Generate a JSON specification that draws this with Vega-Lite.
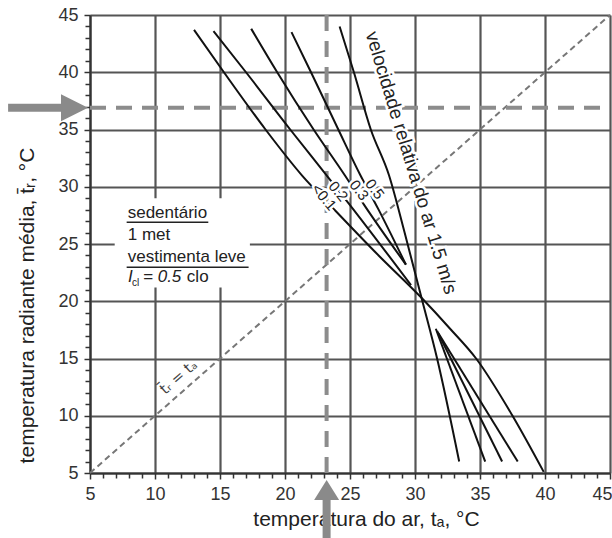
{
  "$schema": "https://vega.github.io/schema/vega-lite/v6.json",
  "width": 520,
  "height": 458,
  "autosize": {"type": "none"},
  "padding": {"left": 90, "top": 15, "right": 2, "bottom": 65},
  "background": "white",
  "config": {"view": {"stroke": null}, "font": "Liberation Sans"},
  "datasets": {
    "curves": [
      {"v": "<0.1", "s": "a", "o": 0, "x": 13.0, "y": 43.7},
      {"v": "<0.1", "s": "a", "o": 1, "x": 15.3, "y": 40},
      {"v": "<0.1", "s": "a", "o": 2, "x": 18.5, "y": 35},
      {"v": "<0.1", "s": "a", "o": 3, "x": 21.3, "y": 31},
      {"v": "<0.1", "s": "a", "o": 4, "x": 23.8, "y": 28},
      {"v": "<0.1", "s": "a", "o": 5, "x": 27.2, "y": 24},
      {"v": "<0.1", "s": "a", "o": 6, "x": 30.5, "y": 20.3},
      {"v": "<0.1", "s": "a", "o": 7, "x": 32.7, "y": 17.6},
      {"v": "<0.1", "s": "a", "o": 8, "x": 34.7, "y": 15},
      {"v": "<0.1", "s": "a", "o": 9, "x": 37.5, "y": 10},
      {"v": "<0.1", "s": "a", "o": 10, "x": 39.9, "y": 5.1},
      {"v": "0.2", "s": "b1", "o": 0, "x": 14.5, "y": 43.6},
      {"v": "0.2", "s": "b1", "o": 1, "x": 17.0, "y": 40},
      {"v": "0.2", "s": "b1", "o": 2, "x": 20.4, "y": 35},
      {"v": "0.2", "s": "b1", "o": 3, "x": 23.2, "y": 31},
      {"v": "0.2", "s": "b1", "o": 4, "x": 25.0, "y": 28.4},
      {"v": "0.2", "s": "b1", "o": 5, "x": 29.7, "y": 21.4},
      {"v": "0.2", "s": "b2", "o": 0, "x": 31.8, "y": 17.2},
      {"v": "0.2", "s": "b2", "o": 1, "x": 37.9, "y": 6.0},
      {"v": "0.3", "s": "c1", "o": 0, "x": 17.4, "y": 43.8},
      {"v": "0.3", "s": "c1", "o": 1, "x": 19.4, "y": 40},
      {"v": "0.3", "s": "c1", "o": 2, "x": 22.2, "y": 35},
      {"v": "0.3", "s": "c1", "o": 3, "x": 24.6, "y": 31},
      {"v": "0.3", "s": "c1", "o": 4, "x": 26.1, "y": 28.4},
      {"v": "0.3", "s": "c1", "o": 5, "x": 29.3, "y": 23.2},
      {"v": "0.3", "s": "c2", "o": 0, "x": 31.7, "y": 17.4},
      {"v": "0.3", "s": "c2", "o": 1, "x": 36.7, "y": 6.0},
      {"v": "0.5", "s": "d1", "o": 0, "x": 20.5, "y": 43.5},
      {"v": "0.5", "s": "d1", "o": 1, "x": 22.0, "y": 40},
      {"v": "0.5", "s": "d1", "o": 2, "x": 24.1, "y": 35},
      {"v": "0.5", "s": "d1", "o": 3, "x": 25.8, "y": 31},
      {"v": "0.5", "s": "d1", "o": 4, "x": 27.2, "y": 28.0},
      {"v": "0.5", "s": "d1", "o": 5, "x": 29.3, "y": 23.2},
      {"v": "0.5", "s": "d2", "o": 0, "x": 31.6, "y": 17.6},
      {"v": "0.5", "s": "d2", "o": 1, "x": 35.4, "y": 6.0},
      {"v": "1.5", "s": "e", "o": 0, "x": 24.2, "y": 44},
      {"v": "1.5", "s": "e", "o": 1, "x": 25.3, "y": 40},
      {"v": "1.5", "s": "e", "o": 2, "x": 26.6, "y": 35},
      {"v": "1.5", "s": "e", "o": 3, "x": 28.0, "y": 31},
      {"v": "1.5", "s": "e", "o": 4, "x": 29.2, "y": 26},
      {"v": "1.5", "s": "e", "o": 5, "x": 30.5, "y": 20.3},
      {"v": "1.5", "s": "e", "o": 6, "x": 31.7, "y": 15},
      {"v": "1.5", "s": "e", "o": 7, "x": 33.4, "y": 6}
    ],
    "box": [{"x": 6.9, "x2": 17.3, "y": 21.2, "y2": 29.0}],
    "diag": [{"x": 5, "x2": 45, "y": 5, "y2": 45}],
    "refs": [
      {"x": 5, "x2": 45, "y": 36.9, "y2": 36.9},
      {"x": 23.2, "x2": 23.2, "y": 5, "y2": 45}
    ],
    "shafts": [
      {"x": -1.3, "x2": 3.9, "y": 36.9, "y2": 36.9},
      {"x": 23.2, "x2": 23.2, "y": 3.6, "y2": -0.9}
    ],
    "headRight": [{"x": 3.81, "y": 36.9}],
    "headUp": [{"x": 23.2, "y": 3.52}],
    "vlabels": [
      {"v": "<0.1", "x": 23.0, "y": 29.1},
      {"v": "0.2", "x": 24.1, "y": 29.6},
      {"v": "0.3", "x": 25.7, "y": 29.7},
      {"v": "0.5", "x": 26.9, "y": 29.8}
    ],
    "vtitle": [{"t": "velocidade relativa do ar 1.5 m/s", "x": 29.7, "y": 32.1}],
    "info": [
      {"t": "sedentário", "x": 7.9, "y": 27.3},
      {"t": "1 met", "x": 7.9, "y": 25.35},
      {"t": "vestimenta leve", "x": 7.9, "y": 23.4},
      {"t": "clo", "x": 12.45, "y": 21.68}
    ],
    "infoItalic": [
      {"t": "I", "x": 7.92, "y": 21.68},
      {"t": "= 0.5", "x": 9.08, "y": 21.68}
    ],
    "infoSub": [{"t": "cl", "x": 8.23, "y": 21.33}],
    "underlines": [
      {"x": 7.82, "x2": 14.1, "y": 26.9, "y2": 26.9},
      {"x": 7.82, "x2": 17.2, "y": 22.96, "y2": 22.96}
    ],
    "diagLabel": [{"t": "t̄ᵣ = tₐ", "x": 11.8, "y": 13.4}]
  },
  "layer": [
    {
      "data": {"name": "box"},
      "mark": {"type": "rect", "fill": "white", "stroke": null},
      "encoding": {
        "x": {"field": "x", "type": "quantitative", "scale": {"domain": [5, 45], "nice": false, "zero": false},
          "axis": {
            "values": [5,6,7,8,9,10,11,12,13,14,15,16,17,18,19,20,21,22,23,24,25,26,27,28,29,30,31,32,33,34,35,36,37,38,39,40,41,42,43,44,45],
            "tickCount": 200,
            "format": "d",
            "labelExpr": "datum.value % 5 === 0 ? datum.label : ''",
            "grid": true,
            "gridColor": "#555555",
            "gridWidth": 2.2,
            "gridOpacity": {"condition": {"test": "datum.value % 5 === 0", "value": 1}, "value": 0},
            "tickSize": {"condition": {"test": "datum.value % 5 === 0", "value": 6}, "value": 5},
            "tickColor": "#333333",
            "tickWidth": 1.5,
            "domainColor": "#333333",
            "domainWidth": 2,
            "labelFontSize": 18,
            "labelColor": "#333333",
            "labelFont": "Liberation Sans",
            "labelPadding": 6,
            "labelFlush": false,
            "labelOverlap": false,
            "labelAlign": {"condition": {"test": "datum.value === 45", "value": "right"}, "value": "center"},
            "labelOffset": {"condition": {"test": "datum.value === 45", "value": 2}, "value": 0},
            "title": "temperatura do ar, tₐ, °C",
            "titleFont": "Liberation Sans",
            "titleFontSize": 21,
            "titleFontWeight": "normal",
            "titleColor": "#222222",
            "titleX": 276,
            "titleY": 52,
            "titleAlign": "center",
            "titleBaseline": "alphabetic"
          }
        },
        "x2": {"field": "x2"},
        "y": {"field": "y", "type": "quantitative", "scale": {"domain": [5, 45], "nice": false, "zero": false},
          "axis": {
            "values": [5,6,7,8,9,10,11,12,13,14,15,16,17,18,19,20,21,22,23,24,25,26,27,28,29,30,31,32,33,34,35,36,37,38,39,40,41,42,43,44,45],
            "tickCount": 200,
            "format": "d",
            "labelExpr": "datum.value % 5 === 0 ? datum.label : ''",
            "grid": true,
            "gridColor": "#555555",
            "gridWidth": 2.2,
            "gridOpacity": {"condition": {"test": "datum.value % 5 === 0", "value": 1}, "value": 0},
            "tickSize": {"condition": {"test": "datum.value % 5 === 0", "value": 6}, "value": 5},
            "tickColor": "#333333",
            "tickWidth": 1.5,
            "domainColor": "#333333",
            "domainWidth": 2,
            "labelFontSize": 18,
            "labelColor": "#333333",
            "labelFont": "Liberation Sans",
            "labelPadding": 6,
            "labelFlush": false,
            "labelOverlap": false,
            "title": "temperatura radiante média,  t̄ᵣ, °C",
            "titleFont": "Liberation Sans",
            "titleFontSize": 21,
            "titleFontWeight": "normal",
            "titleColor": "#222222",
            "titleAngle": -90,
            "titleX": -57,
            "titleY": 290,
            "titleAlign": "center",
            "titleBaseline": "alphabetic"
          }
        },
        "y2": {"field": "y2"}
      }
    },
    {
      "data": {"name": "diag"},
      "mark": {"type": "rule", "color": "#777777", "strokeWidth": 2, "strokeDash": [6, 4]},
      "encoding": {
        "x": {"field": "x", "type": "quantitative", "scale": {"domain": [5, 45], "nice": false, "zero": false}},
        "x2": {"field": "x2"},
        "y": {"field": "y", "type": "quantitative", "scale": {"domain": [5, 45], "nice": false, "zero": false}},
        "y2": {"field": "y2"}
      }
    },
    {
      "data": {"name": "refs"},
      "mark": {"type": "rule", "color": "#8c8c8c", "strokeWidth": 4, "strokeDash": [16, 10]},
      "encoding": {
        "x": {"field": "x", "type": "quantitative", "scale": {"domain": [5, 45], "nice": false, "zero": false}},
        "x2": {"field": "x2"},
        "y": {"field": "y", "type": "quantitative", "scale": {"domain": [5, 45], "nice": false, "zero": false}},
        "y2": {"field": "y2"}
      }
    },
    {
      "data": {"name": "curves"},
      "mark": {"type": "line", "color": "#111111", "strokeWidth": 2, "interpolate": "monotone"},
      "encoding": {
        "x": {"field": "x", "type": "quantitative", "scale": {"domain": [5, 45], "nice": false, "zero": false}},
        "y": {"field": "y", "type": "quantitative", "scale": {"domain": [5, 45], "nice": false, "zero": false}},
        "detail": {"field": "s", "type": "nominal"},
        "order": {"field": "o", "type": "quantitative"}
      }
    },
    {
      "data": {"name": "vlabels"},
      "mark": {"type": "text", "font": "Liberation Sans", "fontSize": 15, "align": "center", "baseline": "middle", "stroke": "white", "strokeWidth": 5, "fill": "white"},
      "encoding": {
        "x": {"field": "x", "type": "quantitative", "scale": {"domain": [5, 45], "nice": false, "zero": false}},
        "y": {"field": "y", "type": "quantitative", "scale": {"domain": [5, 45], "nice": false, "zero": false}},
        "text": {"field": "v"},
        "angle": {"field": "v", "type": "nominal", "scale": {"domain": ["<0.1", "0.2", "0.3", "0.5"], "range": [50, 53, 56, 59]}, "legend": null}
      }
    },
    {
      "data": {"name": "vlabels"},
      "mark": {"type": "text", "font": "Liberation Sans", "fontSize": 15, "align": "center", "baseline": "middle", "color": "#222222"},
      "encoding": {
        "x": {"field": "x", "type": "quantitative", "scale": {"domain": [5, 45], "nice": false, "zero": false}},
        "y": {"field": "y", "type": "quantitative", "scale": {"domain": [5, 45], "nice": false, "zero": false}},
        "text": {"field": "v"},
        "angle": {"field": "v", "type": "nominal", "scale": {"domain": ["<0.1", "0.2", "0.3", "0.5"], "range": [50, 53, 56, 59]}, "legend": null}
      }
    },
    {
      "data": {"name": "vtitle"},
      "mark": {"type": "text", "font": "Liberation Sans", "fontSize": 19, "align": "center", "baseline": "middle", "angle": 73, "stroke": "white", "strokeWidth": 5, "fill": "white"},
      "encoding": {
        "x": {"field": "x", "type": "quantitative", "scale": {"domain": [5, 45], "nice": false, "zero": false}},
        "y": {"field": "y", "type": "quantitative", "scale": {"domain": [5, 45], "nice": false, "zero": false}},
        "text": {"field": "t"}
      }
    },
    {
      "data": {"name": "vtitle"},
      "mark": {"type": "text", "font": "Liberation Sans", "fontSize": 19, "align": "center", "baseline": "middle", "angle": 73, "color": "#222222"},
      "encoding": {
        "x": {"field": "x", "type": "quantitative", "scale": {"domain": [5, 45], "nice": false, "zero": false}},
        "y": {"field": "y", "type": "quantitative", "scale": {"domain": [5, 45], "nice": false, "zero": false}},
        "text": {"field": "t"}
      }
    },
    {
      "data": {"name": "info"},
      "mark": {"type": "text", "font": "Liberation Sans", "fontSize": 17, "align": "left", "baseline": "alphabetic", "color": "#222222"},
      "encoding": {
        "x": {"field": "x", "type": "quantitative", "scale": {"domain": [5, 45], "nice": false, "zero": false}},
        "y": {"field": "y", "type": "quantitative", "scale": {"domain": [5, 45], "nice": false, "zero": false}},
        "text": {"field": "t"}
      }
    },
    {
      "data": {"name": "infoItalic"},
      "mark": {"type": "text", "font": "Liberation Sans", "fontSize": 17, "fontStyle": "italic", "align": "left", "baseline": "alphabetic", "color": "#222222"},
      "encoding": {
        "x": {"field": "x", "type": "quantitative", "scale": {"domain": [5, 45], "nice": false, "zero": false}},
        "y": {"field": "y", "type": "quantitative", "scale": {"domain": [5, 45], "nice": false, "zero": false}},
        "text": {"field": "t"}
      }
    },
    {
      "data": {"name": "infoSub"},
      "mark": {"type": "text", "font": "Liberation Sans", "fontSize": 10, "align": "left", "baseline": "alphabetic", "color": "#222222"},
      "encoding": {
        "x": {"field": "x", "type": "quantitative", "scale": {"domain": [5, 45], "nice": false, "zero": false}},
        "y": {"field": "y", "type": "quantitative", "scale": {"domain": [5, 45], "nice": false, "zero": false}},
        "text": {"field": "t"}
      }
    },
    {
      "data": {"name": "underlines"},
      "mark": {"type": "rule", "color": "#222222", "strokeWidth": 1.5},
      "encoding": {
        "x": {"field": "x", "type": "quantitative", "scale": {"domain": [5, 45], "nice": false, "zero": false}},
        "x2": {"field": "x2"},
        "y": {"field": "y", "type": "quantitative", "scale": {"domain": [5, 45], "nice": false, "zero": false}},
        "y2": {"field": "y2"}
      }
    },
    {
      "data": {"name": "diagLabel"},
      "mark": {"type": "text", "font": "DejaVu Sans", "fontSize": 15, "align": "center", "baseline": "middle", "angle": -41, "color": "#444444"},
      "encoding": {
        "x": {"field": "x", "type": "quantitative", "scale": {"domain": [5, 45], "nice": false, "zero": false}},
        "y": {"field": "y", "type": "quantitative", "scale": {"domain": [5, 45], "nice": false, "zero": false}},
        "text": {"field": "t"}
      }
    },
    {
      "data": {"name": "shafts"},
      "mark": {"type": "rule", "color": "#8a8a8a", "strokeWidth": 8},
      "encoding": {
        "x": {"field": "x", "type": "quantitative", "scale": {"domain": [5, 45], "nice": false, "zero": false}},
        "x2": {"field": "x2"},
        "y": {"field": "y", "type": "quantitative", "scale": {"domain": [5, 45], "nice": false, "zero": false}},
        "y2": {"field": "y2"}
      }
    },
    {
      "data": {"name": "headRight"},
      "mark": {"type": "point", "shape": "M-1,-1L1,0L-1,1Z", "size": 729, "filled": true, "color": "#8a8a8a", "opacity": 1, "strokeWidth": 0},
      "encoding": {
        "x": {"field": "x", "type": "quantitative", "scale": {"domain": [5, 45], "nice": false, "zero": false}},
        "y": {"field": "y", "type": "quantitative", "scale": {"domain": [5, 45], "nice": false, "zero": false}}
      }
    },
    {
      "data": {"name": "headUp"},
      "mark": {"type": "point", "shape": "M-1,0.8L0,-0.8L1,0.8Z", "size": 625, "filled": true, "color": "#8a8a8a", "opacity": 1, "strokeWidth": 0},
      "encoding": {
        "x": {"field": "x", "type": "quantitative", "scale": {"domain": [5, 45], "nice": false, "zero": false}},
        "y": {"field": "y", "type": "quantitative", "scale": {"domain": [5, 45], "nice": false, "zero": false}}
      }
    }
  ]
}
